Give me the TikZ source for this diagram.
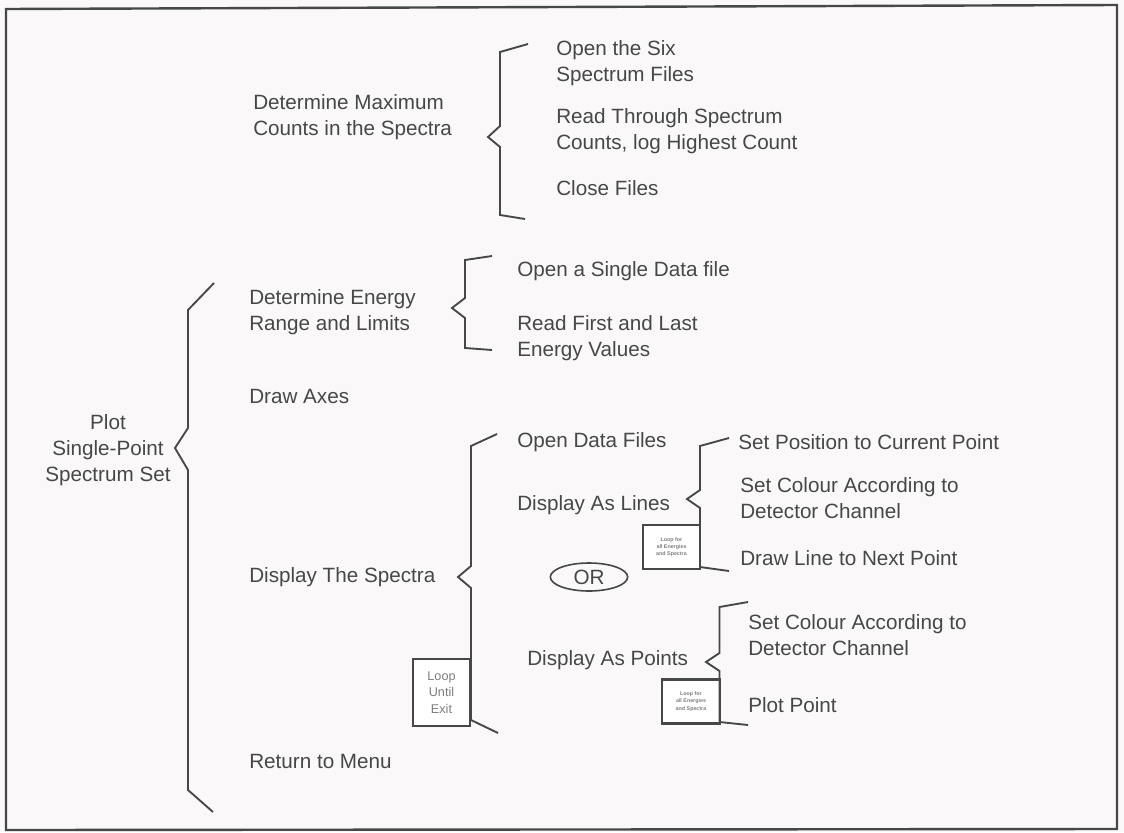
\documentclass[tikz,border=0pt]{standalone}
\usepackage{fontspec}
\setmainfont{Liberation Sans}
\usetikzlibrary{shapes.geometric}
\definecolor{inkgrey}{RGB}{70,72,72}
\definecolor{papercol}{RGB}{250,248,248}
\tikzset{
  txt/.style={anchor=west, align=left, inner sep=0pt, text=inkgrey,
    font=\fontsize{15.5}{19.5}\selectfont},
  ctxt/.style={align=center, inner sep=0pt, text=inkgrey,
    font=\fontsize{15.5}{19.5}\selectfont},
  brace/.style={draw=inkgrey, line width=1.4pt, line join=miter},
  loopbox/.style={draw=inkgrey, line width=1.6pt, fill=white, inner sep=0pt,
    minimum width=43pt, align=center, text=inkgrey!70},
}
\begin{document}
\begin{tikzpicture}[x=0.75pt, y=-0.75pt]
    \useasboundingbox (0,0) rectangle (1124,832);
    \fill[papercol] (0,0) rectangle (1124,832);
    % outer frame, top edge slightly skewed
    \draw[inkgrey, line width=1.8pt, line join=miter] (6,9) -- (1117,5) -- (1117,829) -- (6,830) -- cycle;

        % root
        \node[ctxt] (plot) at (108,450) {Plot\\Single-Point\\Spectrum Set};

        % first level
        \node[txt] (maxc) at (253,117) {Determine Maximum\\Counts in the Spectra};
        \node[txt] (erange) at (249,312) {Determine Energy\\Range and Limits};
        \node[txt] (axes) at (249,396) {Draw Axes};
        \node[txt] (disp) at (249,577) {Display The Spectra};
        \node[txt] (menu) at (249,761) {Return to Menu};

        % under Determine Maximum
        \node[txt] (open6) at (556,63) {Open the Six\\Spectrum Files};
        \node[txt] (readc) at (556,131) {Read Through Spectrum\\Counts, log Highest Count};
        \node[txt] (closef) at (556,188) {Close Files};

        % under Determine Energy
        \node[txt] (open1) at (517,271) {Open a Single Data file};
        \node[txt] (reade) at (517,338) {Read First and Last\\Energy Values};

        % under Display The Spectra
        \node[txt] (opend) at (517,442) {Open Data Files};
        \node[txt] (lines) at (517,505) {Display As Lines};
        \node[draw=inkgrey, line width=1.2pt, ellipse, minimum width=58pt, minimum height=21pt,
              inner sep=0pt, text=inkgrey, font=\fontsize{15.5}{18}\selectfont] (or) at (589,577) {OR};
        \node[txt] (points) at (527,660) {Display As Points};

        % under Display As Lines
        \node[txt] (setpos) at (738,442) {Set Position to Current Point};
        \node[txt] (setcol1) at (740,498) {Set Colour According to\\Detector Channel};
        \node[txt] (drawl) at (740,558) {Draw Line to Next Point};

        % under Display As Points
        \node[txt] (setcol2) at (748,635) {Set Colour According to\\Detector Channel};
        \node[txt] (plotp) at (748,705) {Plot Point};

        % loop boxes
        \node[loopbox, minimum height=50pt, font=\fontsize{9.5}{12.5}\selectfont] (untl)
              at (441.5,692.5) {Loop\\Until\\Exit};
        \node[loopbox, minimum height=33pt, font=\fontsize{4}{5.5}\selectfont\bfseries] (lp1)
              at (671.5,547) {Loop for\\all Energies\\and Spectra};
        \node[loopbox, minimum height=33pt, font=\fontsize{4}{5.5}\selectfont\bfseries] (lp2)
              at (691,701.5) {Loop for\\all Energies\\and Spectra};

        % brackets
        \draw[brace] (214,283) -- (188,310) -- (188,428) -- (175,448) -- (188,470) -- (188,790) -- (213,812);
        \draw[brace] (528,44) -- (500,52) -- (500,126) -- (488,137) -- (500,147) -- (500,215) -- (525,219);
        \draw[brace] (492,256) -- (465,260) -- (465,298) -- (452,308) -- (465,318) -- (465,348) -- (492,350);
        \draw[brace] (497,434) -- (471,446) -- (471,566) -- (458,577) -- (471,588) -- (471,720) -- (498,733);
        \draw[brace] (729,438) -- (700,446) -- (700,490) -- (687,499) -- (700,508) -- (700,567) -- (729,571);
        \draw[brace] (748,602) -- (719.5,607) -- (719.5,653) -- (706,662) -- (719.5,671) -- (719.5,722) -- (748,725);
\end{tikzpicture}
\end{document}
